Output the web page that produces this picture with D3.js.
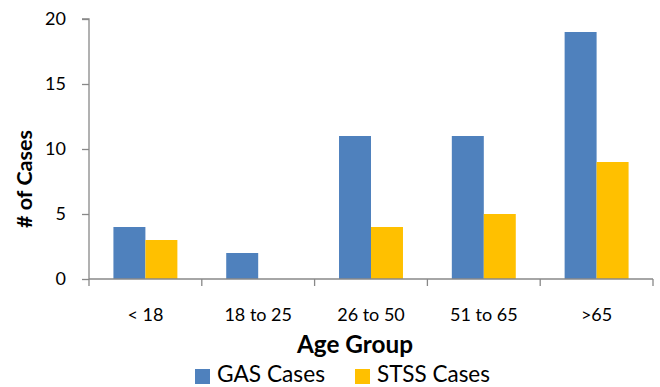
<!DOCTYPE html>
<html>
<head>
<meta charset="utf-8">
<script src="https://cdn.jsdelivr.net/npm/d3@7"></script>
<style>
  html, body { margin: 0; padding: 0; background: #fff; }
  svg { display: block; font-family: Lato, "Open Sans", sans-serif; }
</style>
</head>
<body>
<svg id="chart" width="660" height="387"></svg>
<script>
// Case counts by age group
const categories = ["< 18", "18 to 25", "26 to 50", "51 to 65", ">65"];
const seriesNames = ["GAS Cases", "STSS Cases"];
const gasCases = [4, 2, 11, 11, 19];
const stssCases = [3, 0, 4, 5, 9];
const yTicks = [0, 5, 10, 15, 20];
const colors = ["#4F81BD", "#FFC000"];

const svg = d3.select("#chart");
const plotLeft = 89, plotRight = 653, plotTop = 19, plotBottom = 279;
const axisColor = "#888888";

// scale a text's font size so it spans the given width
function fitWidth(sel, width) {
  const node = sel.node();
  const size = parseFloat(sel.style("font-size"));
  const len = node.getComputedTextLength();
  sel.style("font-size", (size * width / len).toFixed(2) + "px");
  return sel;
}

const x = d3.scaleBand().domain(categories).range([plotLeft, plotRight])
  .paddingInner(0.433).paddingOuter(0.2165);
const xs = d3.scaleBand().domain(seriesNames).range([0, x.bandwidth()]);
const y = d3.scaleLinear().domain([0, 20]).range([plotBottom, plotTop]);

const rows = categories.map((c, i) => ({ cat: c, vals: [gasCases[i], stssCases[i]] }));

// bars
const groups = svg.append("g").selectAll("g").data(rows).join("g")
  .attr("transform", d => `translate(${x(d.cat)},0)`);
groups.selectAll("rect")
  .data(d => d.vals.map((v, k) => ({ v, k })).filter(e => e.v > 0))
  .join("rect")
  .attr("x", d => xs(seriesNames[d.k]))
  .attr("width", xs.bandwidth())
  .attr("y", d => y(d.v))
  .attr("height", d => y(0) - y(d.v))
  .attr("fill", d => colors[d.k]);

// y axis
const yAxis = svg.append("g").attr("transform", `translate(${plotLeft},0)`)
  .call(d3.axisLeft(y).tickValues(yTicks).tickSize(7).tickPadding(16));
yAxis.select(".domain").attr("stroke", axisColor).attr("stroke-width", 1.3)
  .attr("d", `M-7,${plotTop}H0V${plotBottom}`);
yAxis.selectAll(".tick line").attr("stroke", axisColor).attr("stroke-width", 1.3);
yAxis.selectAll(".tick text").attr("fill", "#000").style("font-size", "18px")
  .style("font-family", "Lato, sans-serif");

// x axis with ticks at group boundaries
const xAxis = svg.append("g").attr("transform", `translate(0,${plotBottom})`);
xAxis.append("line").attr("x1", plotLeft).attr("x2", plotRight)
  .attr("stroke", axisColor).attr("stroke-width", 1.3);
const boundaries = categories.map(c => x(c) - x.step() * x.paddingInner() / 2)
  .concat([plotRight]);
xAxis.selectAll(".xt").data(boundaries).join("line")
  .attr("x1", d => d).attr("x2", d => d).attr("y1", 0).attr("y2", 7)
  .attr("stroke", axisColor).attr("stroke-width", 1.3);
xAxis.selectAll(".xl").data(categories).join("text")
  .attr("x", d => x(d) + x.bandwidth() / 2).attr("y", 42)
  .attr("text-anchor", "middle").style("font-size", "18px").text(d => d);

// axis titles
fitWidth(svg.append("text").attr("x", 355).attr("y", 353).attr("text-anchor", "middle")
  .style("font-size", "20px").style("font-weight", "bold").text("Age Group"), 116);
fitWidth(svg.append("text").attr("transform", "translate(32,179) rotate(-90)")
  .attr("text-anchor", "middle").style("font-size", "20px").style("font-weight", "bold")
  .text("# of Cases"), 98);

// legend
const legend = svg.append("g");
const legendX = [195, 355];
const legendWidths = [108, 113];
seriesNames.forEach((name, i) => {
  legend.append("rect").attr("x", legendX[i]).attr("y", 369).attr("width", 15).attr("height", 15)
    .attr("fill", colors[i]);
  fitWidth(legend.append("text").attr("x", legendX[i] + 22).attr("y", 382)
    .style("font-size", "20px").text(name), legendWidths[i]);
});
</script>
</body>
</html>
